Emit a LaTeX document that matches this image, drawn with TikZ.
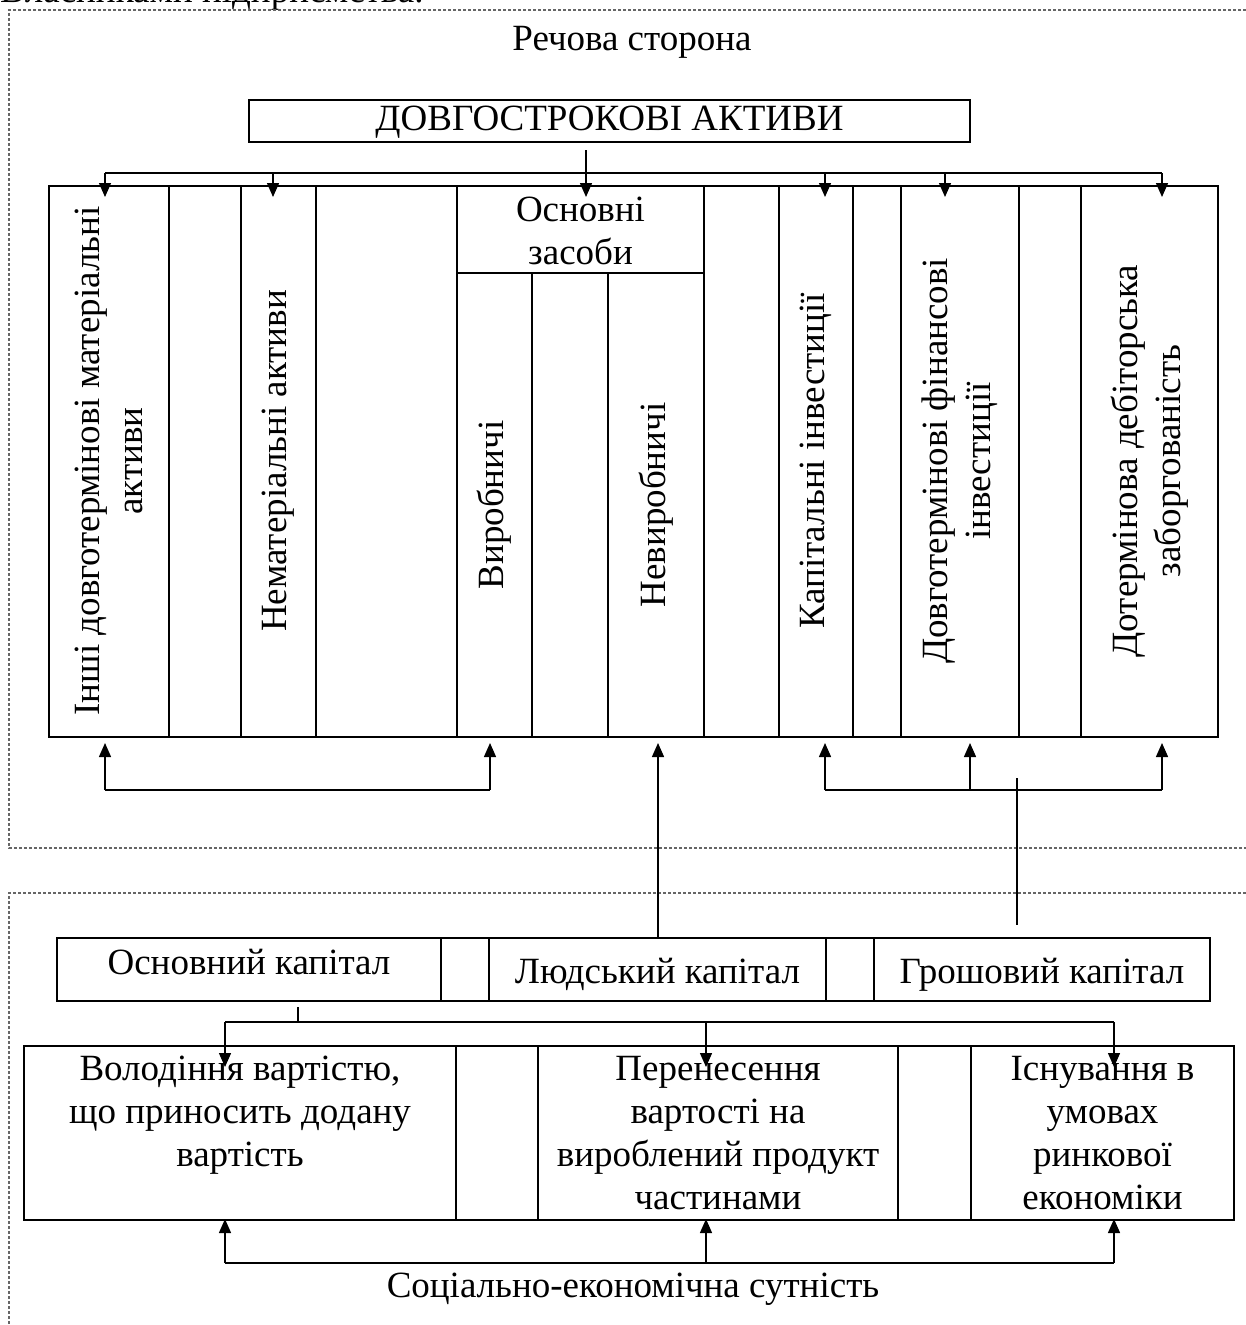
\documentclass[tikz,border=0pt]{standalone}
\usepackage{fontspec}
\setmainfont{Liberation Serif}
\usetikzlibrary{arrows.meta}

% a framed cell given by its corner coordinates: name, x1, y1, x2, y2
\newcommand\cellbox[5]{%
  \node[cellframe, minimum width={(#4-#2)*1pt}, minimum height={(#5-#3)*1pt}]
    (#1) at ({(#2+#4)/2},{(#3+#5)/2}) {};}

\begin{document}
\begin{tikzpicture}[x=1pt,y=-1pt,
  cellframe/.style={draw, line width=1.6pt, inner sep=0pt, outer sep=0pt},
  link/.style={line width=1.4pt},
  arr/.style={link, -{Triangle[length=14pt,width=12pt]}},
  frame/.style={draw=black!60, line width=1.2pt, dash pattern=on 3pt off 2pt},
  lbl/.style={font=\fontsize{37}{43}\selectfont, inner sep=0pt, align=center},
  vlbl/.style={lbl, rotate=90}
]
\useasboundingbox (0,0) rectangle (1246,1325);
\clip (0,0) rectangle (1246,1325);

% line of running text above the scheme
\node[lbl, anchor=base west] (head) at (0,2) {Власниками підприємства.};

% dashed frames of the two parts
\draw[frame] (1246,10) -- (9,10) -- (9,848) -- (1246,848);
\draw[frame] (1246,893) -- (9,893) -- (9,1325);

\node[lbl, anchor=base] (real) at (632,50) {Речова сторона};

% ---------- material side ----------
\cellbox{title}{249}{100}{970}{142}
\node[lbl, anchor=base] at (609.5,130) {ДОВГОСТРОКОВІ АКТИВИ};

\cellbox{r1}{49}{186}{169}{737}
\cellbox{r2}{169}{186}{241}{737}
\cellbox{r3}{241}{186}{316}{737}
\cellbox{r4}{316}{186}{457}{737}
\cellbox{os}{457}{186}{704}{273}
\cellbox{os1}{457}{273}{532}{737}
\cellbox{os2}{532}{273}{608}{737}
\cellbox{os3}{608}{273}{704}{737}
\cellbox{r6}{704}{186}{779}{737}
\cellbox{r7}{779}{186}{853}{737}
\cellbox{r8}{853}{186}{901}{737}
\cellbox{r9}{901}{186}{1019}{737}
\cellbox{r10}{1019}{186}{1081}{737}
\cellbox{r11}{1081}{186}{1218}{737}

\node[vlbl] at (109,461) {Інші довготермінові матеріальні\\активи};
\node[vlbl] at (278.5,461) {Нематеріальні активи};
\node[lbl] at (580.5,231) {Основні\\засоби};
\node[vlbl] at (494.5,505) {Виробничі};
\node[vlbl] at (656,505) {Невиробничі};
\node[vlbl] at (816,461) {Капітальні інвестиції};
\node[vlbl] at (960,461) {Довготермінові фінансові\\інвестиції};
\node[vlbl] at (1149.5,461) {Дотермінова дебіторська\\заборгованість};

% distribution from the title to the groups
\coordinate (tsrc) at (586,150);
\coordinate (tbusL) at (105,173);
\coordinate (tbusR) at (1162,173);
\draw[arr] (tsrc) -- (586,197);
\draw[link] (tbusL) -- (tbusR);
\foreach \x in {105,273,825,945,1162}
  \draw[arr] (\x,173) -- (\x,197);

% links under the groups
\coordinate (lbusL) at (105,790);
\coordinate (lbusR) at (490,790);
\draw[link] (lbusL) -- (lbusR);
\draw[arr] (lbusL) -- (105,743);
\draw[arr] (lbusR) -- (490,743);

\coordinate (rbusL) at (825,790);
\coordinate (rbusR) at (1162,790);
\draw[link] (rbusL) -- (rbusR);
\draw[arr] (rbusL) -- (825,743);
\draw[arr] (970,790) -- (970,743);
\draw[arr] (rbusR) -- (1162,743);

% ---------- capital row ----------
\cellbox{fixc}{57}{938}{441}{1001}
\cellbox{gap1}{441}{938}{489}{1001}
\cellbox{humc}{489}{938}{826}{1001}
\cellbox{gap2}{826}{938}{874}{1001}
\cellbox{monc}{874}{938}{1210}{1001}
\node[lbl, anchor=base] at (249,974) {Основний капітал};
\node[lbl, anchor=base] at (657.5,983) {Людський капітал};
\node[lbl, anchor=base] at (1042,983) {Грошовий капітал};

\draw[arr] (humc.north -| 658,0) -- (658,743);
\coordinate (mtop) at (1017,778);
\coordinate (mbot) at (1017,925);
\draw[link] (mtop) -- (mbot);

% ---------- socio-economic side ----------
\cellbox{s1}{24}{1046}{456}{1220}
\cellbox{s2}{456}{1046}{538}{1220}
\cellbox{s3}{538}{1046}{898}{1220}
\cellbox{s4}{898}{1046}{971}{1220}
\cellbox{s5}{971}{1046}{1234}{1220}

\node[lbl, anchor=north] at (240,1050)
  {\rule{0pt}{30pt}Володіння вартістю,\\що приносить додану\\вартість};
\node[lbl, anchor=north] at (718,1050)
  {\rule{0pt}{30pt}Перенесення\\вартості на\\вироблений продукт\\частинами};
\node[lbl, anchor=north] at (1102.5,1050)
  {\rule{0pt}{30pt}Існування в\\умовах\\ринкової\\економіки};

% from the fixed capital down to the features
\coordinate (fsrc) at (298,1007);
\coordinate (fbusL) at (225,1022);
\coordinate (fbusR) at (1114,1022);
\draw[link] (fsrc) -- (298,1022);
\draw[link] (fbusL) -- (fbusR);
\foreach \x in {225,706,1114}
  \draw[arr] (\x,1022) -- (\x,1067);

% common essence under the features
\coordinate (ebusL) at (225,1263);
\coordinate (ebusR) at (1114,1263);
\draw[link] (ebusL) -- (ebusR);
\foreach \x in {225,706,1114}
  \draw[arr] (\x,1263) -- (\x,1219);

\node[lbl, anchor=base] (essence) at (633,1297) {Соціально-економічна сутність};
\end{tikzpicture}
\end{document}
